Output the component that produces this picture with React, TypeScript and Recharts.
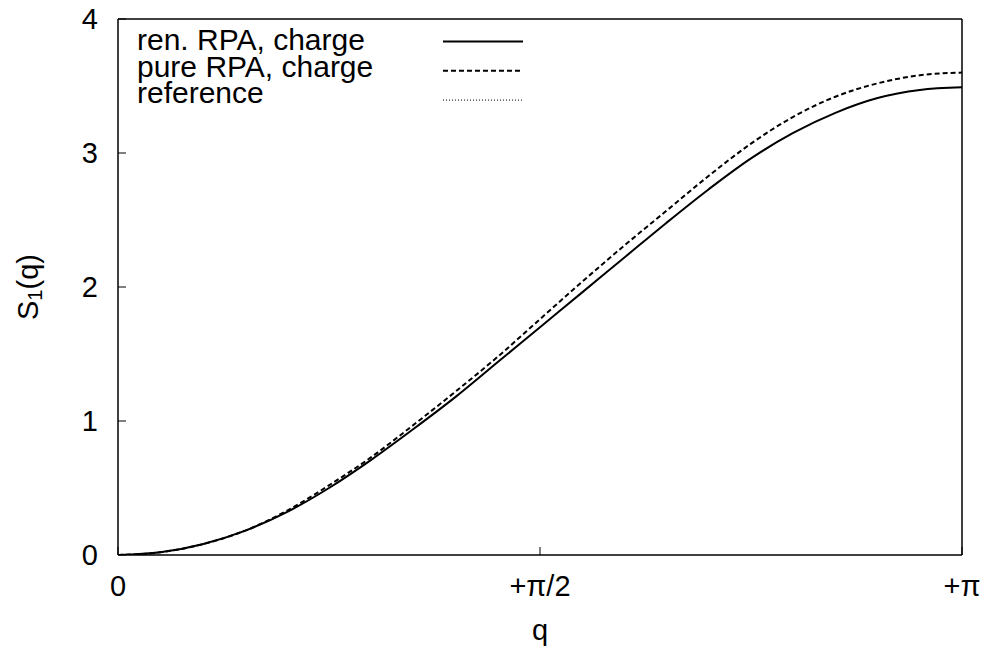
import React from 'react';
import { LineChart, Line, XAxis, YAxis, Legend } from 'recharts';

// q in units of pi
const qOverPi = [0, 0.05, 0.1, 0.15, 0.2, 0.25, 0.3, 0.35, 0.4, 0.45, 0.5, 0.55, 0.6, 0.65, 0.7, 0.75, 0.8, 0.85, 0.9, 0.95, 1.0];
const renRPA = [0, 0.02, 0.08, 0.18, 0.32, 0.5, 0.71, 0.94, 1.18, 1.44, 1.7, 1.96, 2.22, 2.48, 2.73, 2.96, 3.15, 3.3, 3.41, 3.47, 3.49];
const pureRPA = [0, 0.02, 0.08, 0.18, 0.33, 0.52, 0.73, 0.97, 1.22, 1.48, 1.76, 2.04, 2.31, 2.57, 2.83, 3.07, 3.27, 3.42, 3.52, 3.58, 3.6];
const referenceS = [0, 0.02, 0.08, 0.18, 0.32, 0.5, 0.71, 0.94, 1.18, 1.44, 1.7, 1.96, 2.22, 2.48, 2.73, 2.96, 3.15, 3.3, 3.41, 3.47, 3.49];

const xTicks = [0, 0.5, 1];
const xTickLabels = ['0', '+\u03c0/2', '+\u03c0'];
const yTicks = [0, 1, 2, 3, 4];
const seriesNames = ['ren. RPA, charge', 'pure RPA, charge', 'reference'];

const data = qOverPi.map((q, i) => ({ q, ren: renRPA[i], pure: pureRPA[i], ref: referenceS[i] }));

const FONT = '"Liberation Sans", Arial, Helvetica, sans-serif';
const FS = 29;

const legendStyles = [
  { stroke: '#000', strokeWidth: 2, dash: undefined as string | undefined },
  { stroke: '#000', strokeWidth: 2, dash: '5 3' },
  { stroke: '#000', strokeWidth: 1, dash: '1 2' },
];

const LegendBox = () => (
  <svg width={985} height={130} style={{ display: 'block' }}>
    {seriesNames.map((name, i) => (
      <g key={name}>
        <text x={137} y={50 + i * 26.5} fontSize={30} fontFamily={FONT} fill="#000">{name}</text>
        <line x1={443} x2={523} y1={41.5 + i * 29.3} y2={41.5 + i * 29.3}
          stroke={legendStyles[i].stroke} strokeWidth={legendStyles[i].strokeWidth}
          strokeDasharray={legendStyles[i].dash} />
      </g>
    ))}
  </svg>
);

const YLabel = (props: any) => {
  const vb = props.viewBox || { x: 0, y: 19, width: 118, height: 536 };
  const cx = vb.x + 28;
  const cy = vb.y + vb.height / 2;
  return (
    <text x={cx} y={cy} transform={`rotate(-90 ${cx} ${cy})`} textAnchor="middle" dominantBaseline="central"
      fontSize={FS} fontFamily={FONT} fill="#000">
      S<tspan dy={7} fontSize={20}>1</tspan><tspan dy={-7}>(q)</tspan>
    </text>
  );
};

const fmtX = (v: number) => {
  let best = 0;
  xTicks.forEach((t, i) => { if (Math.abs(t - v) < Math.abs(xTicks[best] - v)) best = i; });
  return xTickLabels[best];
};

const tickStyle = { fill: '#000', fontSize: FS, fontFamily: FONT };
const axisLineStyle = { stroke: '#000', strokeWidth: 1.5 };

export default function App() {
  return (
    <div style={{ position: 'fixed', left: 0, top: 0, width: 985, height: 654, background: '#fff', fontFamily: FONT }}>
      <LineChart width={985} height={654} data={data} margin={{ top: 0, right: 0, bottom: 0, left: 0 }}>
        <XAxis xAxisId="b" dataKey="q" type="number" domain={[0, 1]} ticks={xTicks} interval={0}
          orientation="bottom" height={99} tickSize={-8} tickMargin={28} tickFormatter={fmtX}
          tick={tickStyle} tickLine={{ stroke: '#000', strokeWidth: 1 }} axisLine={axisLineStyle} allowDataOverflow
          label={{ value: 'q', position: 'insideBottom', offset: 14, fill: '#000', fontSize: FS, fontFamily: FONT }} />
        <XAxis xAxisId="t" dataKey="q" type="number" domain={[0, 1]} ticks={xTicks} interval={0}
          orientation="top" height={19} tickSize={-8} tick={false}
          tickLine={{ stroke: '#000', strokeWidth: 1 }} axisLine={axisLineStyle} allowDataOverflow />
        <YAxis yAxisId="l" type="number" domain={[0, 4]} ticks={yTicks} interval={0}
          orientation="left" width={118} tickSize={-8} tickMargin={28}
          tick={tickStyle} tickLine={{ stroke: '#000', strokeWidth: 1 }} axisLine={axisLineStyle} allowDataOverflow
          label={<YLabel />} />
        <YAxis yAxisId="r" type="number" domain={[0, 4]} ticks={yTicks} interval={0}
          orientation="right" width={23} tickSize={-8} tick={false}
          tickLine={{ stroke: '#000', strokeWidth: 1 }} axisLine={axisLineStyle} allowDataOverflow />
        <Legend content={<LegendBox />} layout="vertical" align="center" verticalAlign="middle"
          wrapperStyle={{ left: 0, top: 0, width: 985, height: 130, pointerEvents: 'none' }} />
        <Line xAxisId="t" yAxisId="r" dataKey="ref" name={seriesNames[2]} type="monotone" stroke="#000"
          strokeWidth={1} strokeDasharray="1 2" dot={false} isAnimationActive={false} />
        <Line xAxisId="b" yAxisId="l" dataKey="pure" name={seriesNames[1]} type="monotone" stroke="#000"
          strokeWidth={2} strokeDasharray="5 3" dot={false} isAnimationActive={false} />
        <Line xAxisId="b" yAxisId="l" dataKey="ren" name={seriesNames[0]} type="monotone" stroke="#000"
          strokeWidth={2} dot={false} isAnimationActive={false} />
      </LineChart>
    </div>
  );
}
